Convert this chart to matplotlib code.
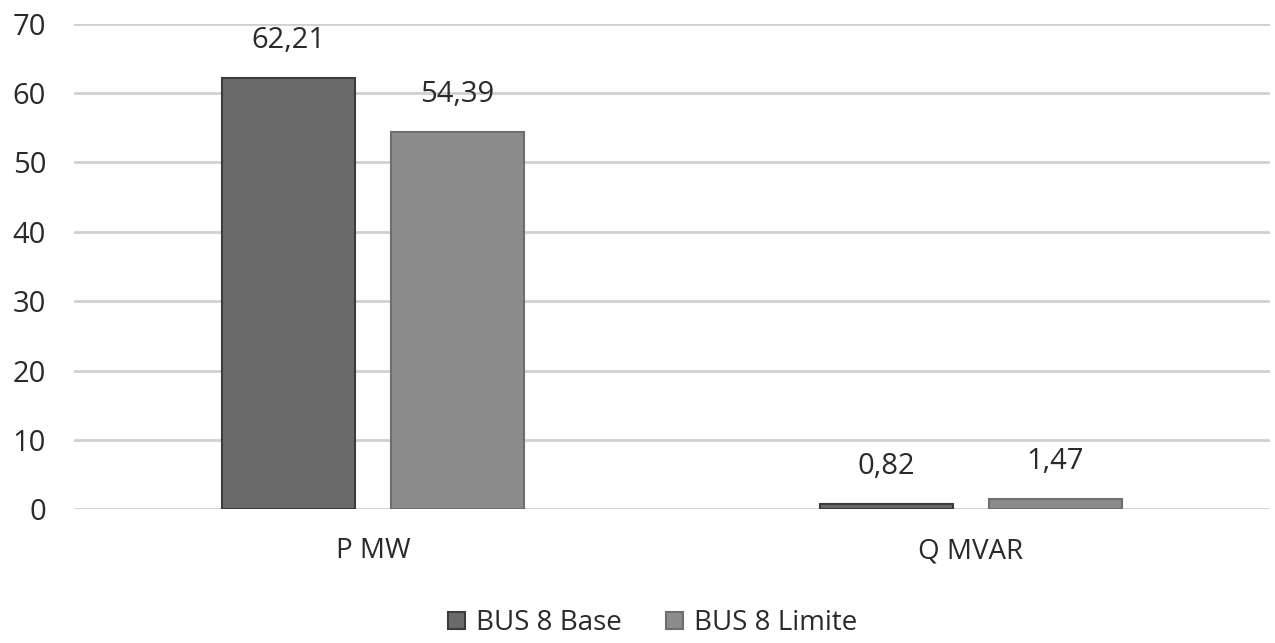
import numpy as np
import matplotlib.pyplot as plt

plt.rcParams['font.family'] = ['Open Sans', 'DejaVu Sans']

categorias = ["P MW", "Q MVAR"]
base = [62.21, 0.82]
limite = [54.39, 1.47]
series = ["BUS 8 Base", "BUS 8 Limite"]

fig = plt.figure(figsize=(12.75, 6.43), dpi=100)
ax = fig.add_axes([0.058, 0.208, 0.938, 0.755])

x = np.arange(len(categorias))
ancho = 0.222
off = 0.141

b1 = ax.bar(x - off, base, ancho, color="#6a6a6a", edgecolor="#3c3c3c", linewidth=1.5,
            label=series[0], zorder=3)
b2 = ax.bar(x + off, limite, ancho, color="#8c8c8c", edgecolor="#6e6e6e", linewidth=1.5,
            label=series[1], zorder=3)

# etiquetas de valor con coma decimal
for barras, vals in [(b1, base), (b2, limite)]:
    for r, v in zip(barras, vals):
        ax.text(r.get_x() + r.get_width() / 2, v + 3.3, f"{v:.2f}".replace(".", ","),
                ha="center", va="bottom", fontsize=21, color="#2a2a2a")

ax.set_xlim(-0.5, 1.5)
ax.set_ylim(0, 70)
ax.set_yticks(range(0, 71, 10))
ax.set_xticks(x)
ax.set_xticklabels(categorias)
ax.tick_params(axis="both", length=0, labelcolor="#2a2a2a")
ax.tick_params(axis="x", pad=20, labelsize=20)
ax.tick_params(axis="y", pad=20, labelsize=21)
ax.yaxis.grid(True, color="#d0d0d0", linewidth=2, zorder=0)
for s in ax.spines.values():
    s.set_visible(False)

fig.legend(loc="lower center", ncol=2, frameon=False, fontsize=20, handlelength=0.6,
           handleheight=0.6, handletextpad=0.4, columnspacing=1.6,
           labelcolor="#2a2a2a", bbox_to_anchor=(0.512, -0.03))

fig.savefig("out.png", dpi=100, facecolor="white")
